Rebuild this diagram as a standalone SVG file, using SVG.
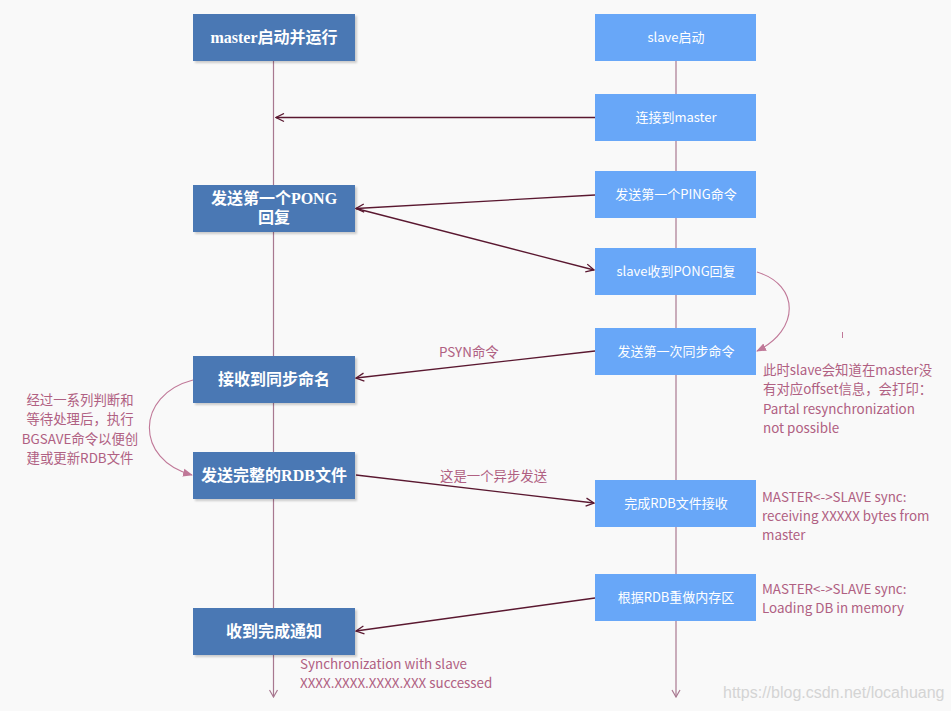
<svg xmlns="http://www.w3.org/2000/svg" width="951" height="711" viewBox="0 0 951 711">
<defs>
<style>
.m rect.b{fill:#4a78b4}
.m rect.s{fill:#000;opacity:0.18}
.s rect{fill:#68a7f8}
.mt{font-family:"Liberation Serif","Noto Sans CJK SC",serif;font-weight:bold;font-size:16px;fill:#fff;text-anchor:middle}
.st{font-family:"Noto Sans CJK SC","Noto Sans",sans-serif;font-size:13px;fill:#fff;text-anchor:middle}
.an{font-family:"Noto Sans CJK SC","Noto Sans",sans-serif;font-size:13.4px;fill:#b06082}
.life{stroke:#a87890;stroke-width:1.2;fill:none}
.msg{stroke:#5a1830;stroke-width:1.3;fill:none}
.curve{stroke:#c07898;stroke-width:1.1;fill:none}
</style>
<filter id="sh" x="-10%" y="-10%" width="130%" height="140%"><feGaussianBlur stdDeviation="1.2"/></filter>
<marker id="ah" viewBox="0 0 10 10" refX="9" refY="5" markerWidth="10" markerHeight="10" markerUnits="userSpaceOnUse" orient="auto">
<path d="M1,1 L9,5 L1,9" fill="none" stroke="#5a1830" stroke-width="1.3"/>
</marker>
<marker id="lah" viewBox="0 0 10 10" refX="5" refY="9" markerWidth="10" markerHeight="10" markerUnits="userSpaceOnUse" orient="0">
<path d="M1,2 L5,9 L9,2" fill="none" stroke="#a87890" stroke-width="1.2"/>
</marker>
<marker id="fah" viewBox="0 0 10 10" refX="9" refY="5" markerWidth="10" markerHeight="10" markerUnits="userSpaceOnUse" orient="auto">
<path d="M0,1 L10,5 L0,9 Z" fill="#c07898"/>
</marker>
</defs>
<rect width="951" height="711" fill="#f9f9f9"/>

<g id="lifelines">
<line class="life" x1="273.5" y1="61" x2="273.5" y2="697" marker-end="url(#lah)"/>
<line class="life" x1="676" y1="61" x2="676" y2="697" marker-end="url(#lah)"/>
</g>

<g id="master-start" class="m">
<rect class="s" x="195" y="16" width="162" height="47" filter="url(#sh)"/>
<rect class="b" x="193" y="14" width="162" height="47"/>
<text class="mt" x="274" y="43">master启动并运行</text>
</g>
<g id="master-pong" class="m">
<rect class="s" x="195" y="187" width="162" height="47" filter="url(#sh)"/>
<rect class="b" x="193" y="185" width="162" height="47"/>
<text class="mt" x="274" y="204">发送第一个PONG</text>
<text class="mt" x="274" y="223">回复</text>
</g>
<g id="master-recv-sync" class="m">
<rect class="s" x="195" y="358" width="162" height="47" filter="url(#sh)"/>
<rect class="b" x="193" y="356" width="162" height="47"/>
<text class="mt" x="274" y="385">接收到同步命名</text>
</g>
<g id="master-send-rdb" class="m">
<rect class="s" x="195" y="454" width="162" height="47" filter="url(#sh)"/>
<rect class="b" x="193" y="452" width="162" height="47"/>
<text class="mt" x="274" y="481">发送完整的RDB文件</text>
</g>
<g id="master-done" class="m">
<rect class="s" x="195" y="610" width="162" height="47" filter="url(#sh)"/>
<rect class="b" x="193" y="608" width="162" height="47"/>
<text class="mt" x="274" y="637">收到完成通知</text>
</g>

<g id="slave-start" class="s">
<rect x="595" y="14" width="161" height="47"/>
<text class="st" x="676" y="42">slave启动</text>
</g>
<g id="slave-connect" class="s">
<rect x="595" y="94" width="161" height="47"/>
<text class="st" x="676" y="122">连接到master</text>
</g>
<g id="slave-ping" class="s">
<rect x="595" y="171" width="161" height="47"/>
<text class="st" x="676" y="199">发送第一个PING命令</text>
</g>
<g id="slave-pong" class="s">
<rect x="595" y="248" width="161" height="47"/>
<text class="st" x="676" y="276">slave收到PONG回复</text>
</g>
<g id="slave-sync" class="s">
<rect x="595" y="328" width="161" height="47"/>
<text class="st" x="676" y="356">发送第一次同步命令</text>
</g>
<g id="slave-rdb" class="s">
<rect x="595" y="480" width="161" height="47"/>
<text class="st" x="676" y="508">完成RDB文件接收</text>
</g>
<g id="slave-load" class="s">
<rect x="595" y="574" width="161" height="47"/>
<text class="st" x="676" y="602">根据RDB重做内存区</text>
</g>

<g id="connectors">
<line class="msg" x1="595" y1="117.5" x2="276" y2="117.5" marker-end="url(#ah)"/>
<line class="msg" x1="595" y1="195" x2="356" y2="208.5" marker-end="url(#ah)"/>
<line class="msg" x1="356" y1="208.5" x2="594" y2="270" marker-end="url(#ah)"/>
<path class="curve" d="M757,272 C800,285 800,330 757,351" marker-end="url(#fah)"/>
<line class="msg" x1="595" y1="351" x2="356" y2="378" marker-end="url(#ah)"/>
<path class="curve" d="M193,380 C135,395 135,460 192,475" marker-end="url(#fah)"/>
<line class="msg" x1="356" y1="475" x2="594" y2="503" marker-end="url(#ah)"/>
<line class="msg" x1="595" y1="598" x2="356" y2="631" marker-end="url(#ah)"/>
<line x1="842.5" y1="332" x2="842.5" y2="338" stroke="#c07898" stroke-width="1"/>
</g>

<g id="labels">
<text class="an" x="439" y="357">PSYN命令</text>
<text class="an" x="440" y="481">这是一个异步发送</text>
<text class="an" x="763" y="375">此时slave会知道在master没</text>
<text class="an" x="763" y="394">有对应offset信息，会打印：</text>
<text class="an" x="763" y="414">Partal resynchronization</text>
<text class="an" x="763" y="433">not possible</text>
<text class="an" x="80" y="405" text-anchor="middle">经过一系列判断和</text>
<text class="an" x="80" y="424" text-anchor="middle">等待处理后，执行</text>
<text class="an" x="80" y="444" text-anchor="middle">BGSAVE命令以便创</text>
<text class="an" x="80" y="463" text-anchor="middle">建或更新RDB文件</text>
<text class="an" x="762" y="502">MASTER&lt;-&gt;SLAVE sync:</text>
<text class="an" x="762" y="521">receiving XXXXX bytes from</text>
<text class="an" x="762" y="540">master</text>
<text class="an" x="762" y="594">MASTER&lt;-&gt;SLAVE sync:</text>
<text class="an" x="762" y="613">Loading DB in memory</text>
<text class="an" x="300" y="669">Synchronization with slave</text>
<text class="an" x="300" y="688">XXXX.XXXX.XXXX.XXX successed</text>
<text x="723" y="698" font-family="Liberation Sans, Arial, sans-serif" font-size="16" fill="#d4d4d4">https://blog.csdn.net/locahuang</text>
</g>
</svg>
